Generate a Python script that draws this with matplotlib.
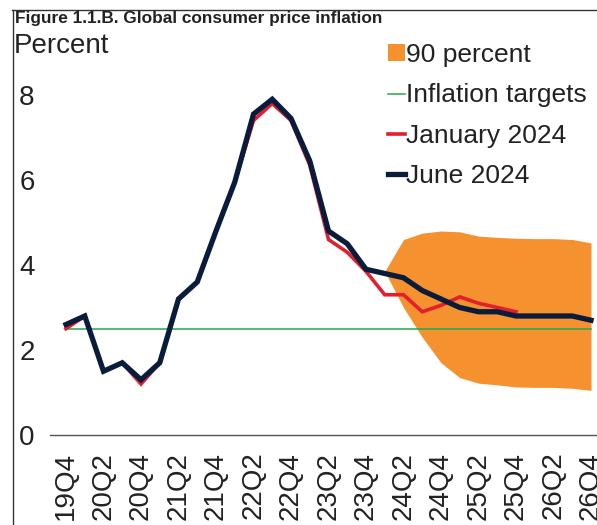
import matplotlib
matplotlib.use("Agg")
import matplotlib.pyplot as plt
from matplotlib.lines import Line2D
from matplotlib.patches import Patch
import numpy as np

plt.rcParams['font.family'] = ['Liberation Sans', 'DejaVu Sans']

quarters = ["19Q4",
            "20Q1", "20Q2", "20Q3", "20Q4",
            "21Q1", "21Q2", "21Q3", "21Q4",
            "22Q1", "22Q2", "22Q3", "22Q4",
            "23Q1", "23Q2", "23Q3", "23Q4",
            "24Q1", "24Q2", "24Q3", "24Q4",
            "25Q1", "25Q2", "25Q3", "25Q4",
            "26Q1", "26Q2", "26Q3", "26Q4"]

june_2024 = [2.6, 2.8, 1.5, 1.7, 1.3, 1.7, 3.2, 3.6, 4.8, 5.95, 7.55, 7.9, 7.45,
             6.45, 4.8, 4.5, 3.9, 3.8, 3.7, 3.4, 3.2, 3.0, 2.9, 2.9, 2.8,
             2.8, 2.8, 2.8, 2.7]
jan_2024 = [2.5, 2.8, 1.5, 1.7, 1.2, 1.7, 3.2, 3.6, 4.8, 5.95, 7.4, 7.8, 7.4,
            6.35, 4.6, 4.3, 3.85, 3.3, 3.3, 2.9, 3.05, 3.25, 3.1, 3.0, 2.9]
band_quarters = ["24Q1", "24Q2", "24Q3", "24Q4", "25Q1", "25Q2", "25Q3", "25Q4",
                 "26Q1", "26Q2", "26Q3", "26Q4"]
band_upper = [3.85, 4.6, 4.75, 4.8, 4.78, 4.68, 4.65, 4.63, 4.62, 4.62, 4.6, 4.52]
band_lower = [3.85, 3.0, 2.3, 1.7, 1.35, 1.22, 1.18, 1.13, 1.12, 1.12, 1.1, 1.05]
inflation_target = 2.5
yticks = [0, 2, 4, 6, 8]

W, H = 597, 525
fig = plt.figure(figsize=(W / 100, H / 100), dpi=100)

# axes placement in pixels
ax_left, ax_right = 50, 597
ax_bottom_px = 435  # y (from top) of value 0
px_per_unit = 42.5
ax_top_px = 30
ax = fig.add_axes([ax_left / W, (H - ax_bottom_px) / H,
                   (ax_right - ax_left) / W, (ax_bottom_px - ax_top_px) / H])

px_per_q = 18.75
x0_px = 66
xs = np.arange(len(quarters))
ax.set_xlim((ax_left - x0_px) / px_per_q, (ax_right - x0_px) / px_per_q)
ax.set_ylim(0, (ax_bottom_px - ax_top_px) / px_per_unit)

bx = [quarters.index(q) for q in band_quarters]
ax.fill_between(bx, band_lower, band_upper, color='#f5912f', lw=0, zorder=1)
ax.plot([0, len(quarters) - 1], [inflation_target] * 2, color='#1fa94f', lw=1.1, zorder=2)
ax.plot(np.arange(len(jan_2024)), jan_2024, color='#e31e2d', lw=2.6, zorder=3,
        solid_joinstyle='miter')
ax.plot(xs, june_2024, color='#0a1c3c', lw=3.8, zorder=4, solid_joinstyle='miter')

for s in ['top', 'right', 'left']:
    ax.spines[s].set_visible(False)
ax.spines['bottom'].set_color('#555555')
ax.spines['bottom'].set_linewidth(1.0)

ax.set_yticks(yticks)
ax.set_yticklabels([str(v) for v in yticks], fontsize=20, color='#222222')
ax.tick_params(axis='y', length=0, pad=11)
ax.set_xticks(xs[::2])
ax.set_xticklabels(quarters[::2], rotation=90, fontsize=20, color='#222222',
                   va='top', ha='center')
ax.tick_params(axis='x', length=0, pad=12)

handles = [Patch(facecolor='#f5912f', edgecolor='none'),
           Line2D([], [], color='#1fa94f', lw=1.1),
           Line2D([], [], color='#e31e2d', lw=2.6),
           Line2D([], [], color='#0a1c3c', lw=3.8)]
labels = ["90 percent", "Inflation targets", "January 2024", "June 2024"]
leg = fig.legend(handles, labels, loc='upper left',
                 bbox_to_anchor=(388 / W, 1 - 43 / H), frameon=False,
                 fontsize=19, handlelength=0.65, handletextpad=0.05,
                 labelspacing=0.62, borderpad=0, borderaxespad=0,
                 handleheight=0.6, labelcolor='#222222')

fig.text(15 / W, 1 - 18 / H, "Figure 1.1.B. Global consumer price inflation",
         fontsize=12.4, fontweight='bold', color='#222222', va='center', ha='left')
fig.text(14 / W, 1 - 46 / H, "Percent", fontsize=20, color='#222222',
         va='center', ha='left')

# border of the figure panel
fig.add_artist(Line2D([12.5 / W, 12.5 / W], [0, 1 - 10 / H], color='#333333',
                      lw=1.0, transform=fig.transFigure))
fig.add_artist(Line2D([12 / W, 1], [1 - 10 / H, 1 - 10 / H], color='#333333',
                      lw=1.0, transform=fig.transFigure))

fig.savefig("out.png", dpi=100)
